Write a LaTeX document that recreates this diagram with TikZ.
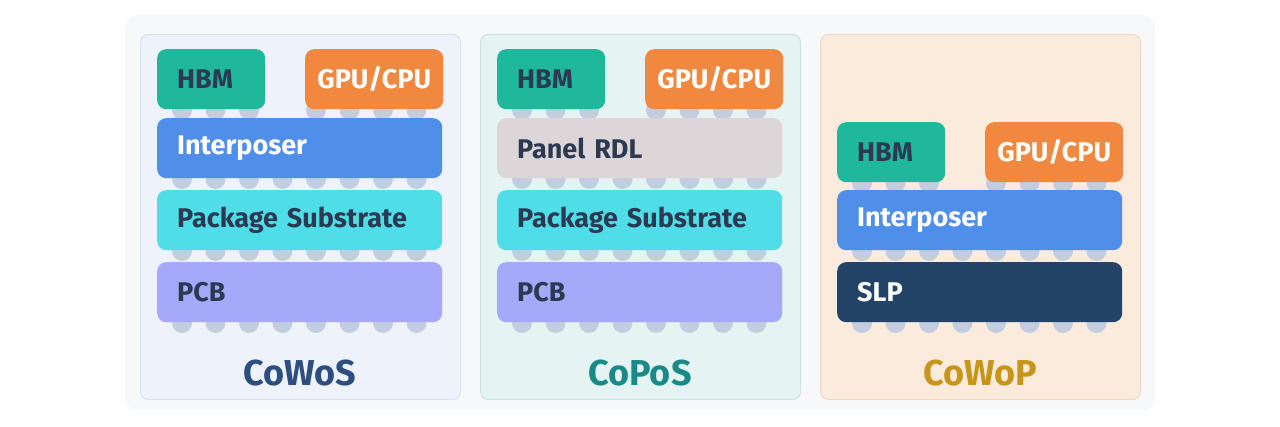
\documentclass[tikz,border=0pt]{standalone}
\usepackage{fontspec}
\setmainfont{Fira Sans}
\definecolor{boardbg}{HTML}{F7F8FA}
\definecolor{inkdark}{HTML}{2B3A52}
\definecolor{bumpgray}{HTML}{C3CDE0}
\definecolor{hbmteal}{HTML}{1FB89C}
\definecolor{cpuorange}{HTML}{F0893F}
\definecolor{ipblue}{HTML}{4F8FEA}
\definecolor{subcyan}{HTML}{4FDDE8}
\definecolor{pcblilac}{HTML}{A6A9F9}
\definecolor{rdlgray}{HTML}{DDD6D8}
\definecolor{slpnavy}{HTML}{234367}
\newcommand\layerfont{\bfseries\fontsize{27}{30}\selectfont}
\newcommand\namefont{\bfseries\fontsize{36}{40}\selectfont}
\begin{document}
\begin{tikzpicture}[x=1pt, y=-1pt,
    panel/.style={draw, line width=1pt, rounded corners=8pt, minimum width=320pt, minimum height=365pt, anchor=north west},
    layer/.style={rounded corners=9pt, anchor=north west, minimum height=60pt, inner xsep=20pt, inner ysep=0pt, text width=245pt, align=left, font=\layerfont, text=inkdark},
    hbm/.style={layer, text width=68pt, fill=hbmteal},
    cpu/.style={layer, inner xsep=6pt, text width=126pt, align=center, text=white, fill=cpuorange},
    pkgname/.style={font=\namefont}]
    \fill[white] (0,0) rectangle (1280,427);
    \useasboundingbox (0,0) rectangle (1280,427);
    \node[fill=boardbg, rounded corners=12pt, minimum width=1030pt, minimum height=395pt, anchor=north west] (board) at (125,15) {};

    % panels
    \node[panel, fill={rgb,255:red,238;green,242;blue,250}, draw={rgb,255:red,217;green,227;blue,242}] (cowos) at (140,34) {};
    \node[panel, fill={rgb,255:red,229;green,243;blue,242}, draw={rgb,255:red,198;green,229;blue,226}] (copos) at (480,34) {};
    \node[panel, fill={rgb,255:red,250;green,235;blue,221}, draw={rgb,255:red,242;green,217;blue,194}] (cowop) at (820,34) {};

    % bumps, drawn first so the layers cover their tops
    \foreach \k in {0,1,2} {
        \fill[bumpgray] (182+33.5*\k,110) circle (10pt);
        \fill[bumpgray] (522+33.5*\k,110) circle (10pt);
        \fill[bumpgray] (862+33.5*\k,183) circle (10pt);
    }
    \foreach \k in {4,...,7} {
        \fill[bumpgray] (182+33.5*\k,110) circle (10pt);
        \fill[bumpgray] (522+33.5*\k,110) circle (10pt);
        \fill[bumpgray] (862+33.5*\k,183) circle (10pt);
    }
    \foreach \k in {0,...,7} {
        \foreach \y in {179,251,323} {
            \fill[bumpgray] (182+33.5*\k,\y) circle (10pt);
            \fill[bumpgray] (522+33.5*\k,\y) circle (10pt);
        }
        \fill[bumpgray] (862+33.5*\k,251) circle (10pt);
        \fill[bumpgray] (862+33.5*\k,323) circle (10pt);
    }

    % CoWoS
    \node[hbm] (hbmA) at (157,49) {HBM};
    \node[cpu] (cpuA) at (305,49) {GPU/CPU};
    \node[layer, fill=ipblue, text=white] (ipA) at (157,118) {Interposer};
    \node[layer, fill=subcyan] (subA) at (157,190) {Package Substrate};
    \node[layer, fill=pcblilac] (pcbA) at (157,262) {PCB};
    \node[pkgname, text={rgb,255:red,45;green,78;blue,126}] (nameA) at (300,373) {CoWoS};

    % CoPoS
    \node[hbm] (hbmB) at (497,49) {HBM};
    \node[cpu] (cpuB) at (645,49) {GPU/CPU};
    \node[layer, fill=rdlgray] (rdlB) at (497,118) {Panel RDL};
    \node[layer, fill=subcyan] (subB) at (497,190) {Package Substrate};
    \node[layer, fill=pcblilac] (pcbB) at (497,262) {PCB};
    \node[pkgname, text={rgb,255:red,26;green,138;blue,136}] (nameB) at (640,373) {CoPoS};

    % CoWoP
    \node[hbm] (hbmC) at (837,122) {HBM};
    \node[cpu] (cpuC) at (985,122) {GPU/CPU};
    \node[layer, fill=ipblue, text=white] (ipC) at (837,190) {Interposer};
    \node[layer, fill=slpnavy, text=white] (slpC) at (837,262) {SLP};
    \node[pkgname, text={rgb,255:red,200;green,149;blue,28}] (nameC) at (980,373) {CoWoP};
\end{tikzpicture}
\end{document}
